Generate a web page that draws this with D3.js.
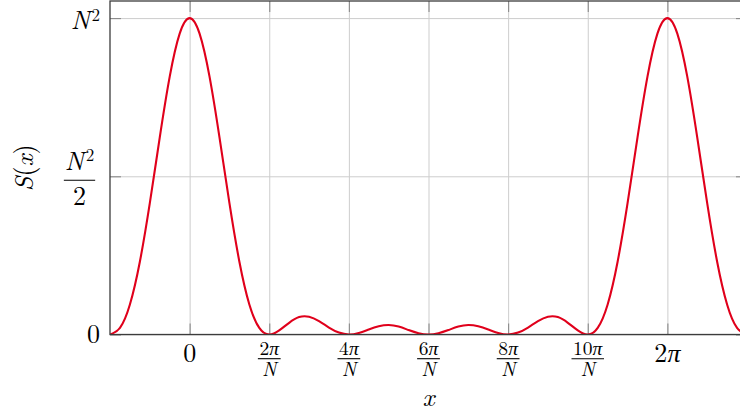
<!DOCTYPE html>
<html>
<head>
<meta charset="utf-8">
<script src="https://cdn.jsdelivr.net/npm/d3@7"></script>
<style>
  html, body { margin: 0; padding: 0; background: #fff; overflow: hidden; }
</style>
</head>
<body>
<svg id="chart" width="740" height="414"></svg>
<script>
// S(x) sampled on a uniform grid, starting at -π/3 with a step of π/24,
// values given as a fraction of the main-peak height N².
const sampleStart = -Math.PI / 3;
const sampleStep = Math.PI / 24;
const sValues = [
  0.000, 0.021, 0.095, 0.230, 0.415, 0.623, 0.815, 0.951,
  1.000, 0.951, 0.815, 0.623, 0.415, 0.230, 0.095, 0.021,
  0.000, 0.013, 0.037, 0.055, 0.056, 0.042, 0.022, 0.006,
  0.000, 0.005, 0.016, 0.026, 0.030, 0.025, 0.014, 0.004,
  0.000, 0.004, 0.014, 0.025, 0.030, 0.026, 0.016, 0.005,
  0.000, 0.006, 0.022, 0.042, 0.056, 0.055, 0.037, 0.013,
  0.000, 0.021, 0.095, 0.230, 0.415, 0.623, 0.815, 0.951,
  1.000, 0.951, 0.815, 0.623, 0.415, 0.230, 0.095, 0.021,
  0.000
];

// Axis extents
const xDomain = [-Math.PI / 3, 7 * Math.PI / 3];
const yDomain = [0, 1.054];

// Ticks
const xTickValues = [0, Math.PI / 3, 2 * Math.PI / 3, Math.PI, 4 * Math.PI / 3, 5 * Math.PI / 3, 2 * Math.PI];
const xTickLabels = [
  { parts: [{ t: "0" }] },
  { num: [{ t: "2" }, { t: "π", it: true }], den: [{ t: "N", it: true }] },
  { num: [{ t: "4" }, { t: "π", it: true }], den: [{ t: "N", it: true }] },
  { num: [{ t: "6" }, { t: "π", it: true }], den: [{ t: "N", it: true }] },
  { num: [{ t: "8" }, { t: "π", it: true }], den: [{ t: "N", it: true }] },
  { num: [{ t: "10" }, { t: "π", it: true }], den: [{ t: "N", it: true }] },
  { parts: [{ t: "2" }, { t: "π", it: true }] }
];
const yTickValues = [0, 0.5, 1];
const yTickLabels = [
  { parts: [{ t: "0" }] },
  { num: [{ t: "N", it: true }, { t: "2", sup: true }], den: [{ t: "2" }], big: true },
  { parts: [{ t: "N", it: true }, { t: "2", sup: true }] }
];

const mathFont = "'Latin Modern Roman', 'Liberation Serif', serif";
const svg = d3.select("#chart").attr("font-family", mathFont);
const plotLeft = 110, plotRight = 747, plotTop = 1, plotBottom = 334.5;
const x = d3.scaleLinear().domain(xDomain).range([plotLeft, plotRight]);
const y = d3.scaleLinear().domain(yDomain).range([plotBottom, plotTop]);

const gridColor = "#cdcdcd", tickColor = "#8a8a8a", frameColor = "#3c3c3c";
const lineColor = "#e0001b";
const mainSize = 26, fracSize = 19.5, supSize = 17;

// Grid lines
svg.append("g")
  .attr("transform", `translate(0,${plotBottom})`)
  .call(d3.axisBottom(x).tickValues(xTickValues).tickSize(-(plotBottom - plotTop)).tickFormat(""))
  .call(g => g.select(".domain").remove())
  .call(g => g.selectAll("line").attr("stroke", gridColor).attr("stroke-width", 1));
svg.append("g")
  .attr("transform", `translate(${plotLeft},0)`)
  .call(d3.axisLeft(y).tickValues(yTickValues).tickSize(-(plotRight - plotLeft)).tickFormat(""))
  .call(g => g.select(".domain").remove())
  .call(g => g.selectAll("line").attr("stroke", gridColor).attr("stroke-width", 1));

// Inner tick marks on all four sides
const tickLen = 11;
function styleTicks(g) {
  g.select(".domain").remove();
  g.selectAll("line").attr("stroke", tickColor).attr("stroke-width", 1.1);
}
svg.append("g").attr("transform", `translate(0,${plotBottom})`)
  .call(d3.axisBottom(x).tickValues(xTickValues).tickSize(-tickLen).tickFormat("")).call(styleTicks);
svg.append("g").attr("transform", `translate(0,${plotTop})`)
  .call(d3.axisTop(x).tickValues(xTickValues).tickSize(-tickLen).tickFormat("")).call(styleTicks);
svg.append("g").attr("transform", `translate(${plotLeft},0)`)
  .call(d3.axisLeft(y).tickValues(yTickValues).tickSize(-tickLen).tickFormat("")).call(styleTicks);
svg.append("g").attr("transform", `translate(${plotRight},0)`)
  .call(d3.axisRight(y).tickValues(yTickValues).tickSize(-tickLen).tickFormat("")).call(styleTicks);

// Curve
svg.append("clipPath").attr("id", "plotClip")
  .append("rect").attr("x", plotLeft).attr("y", plotTop - 2)
  .attr("width", plotRight - plotLeft).attr("height", plotBottom - plotTop + 2);

const points = sValues.map((v, i) => [sampleStart + i * sampleStep, v]);
const line = d3.line()
  .x(d => x(d[0]))
  .y(d => y(d[1]))
  .curve(d3.curveNatural);
svg.append("path")
  .datum(points)
  .attr("clip-path", "url(#plotClip)")
  .attr("fill", "none")
  .attr("stroke", lineColor)
  .attr("stroke-width", 2.1)
  .attr("stroke-linejoin", "round")
  .attr("d", line);

// Frame
svg.append("rect")
  .attr("x", plotLeft).attr("y", plotTop)
  .attr("width", plotRight - plotLeft).attr("height", plotBottom - plotTop)
  .attr("fill", "none").attr("stroke", frameColor).attr("stroke-width", 1.3);

// Math-style text helper: italic symbols, raised superscripts
function writeMath(textSel, parts) {
  parts.forEach(p => {
    const ts = textSel.append("tspan").text(p.t);
    if (p.it) ts.attr("font-style", "italic");
    if (p.sup) ts.attr("font-size", supSize).attr("dy", -8.5).attr("dx", 1.5);
  });
  return textSel;
}

function drawLabel(g, spec, anchor, opts) {
  if (spec.parts) {
    const t = g.append("text").attr("text-anchor", anchor).attr("font-size", mainSize)
      .attr("x", 0).attr("y", opts.baseline);
    writeMath(t, spec.parts);
  } else {
    const fs = spec.big ? mainSize : fracSize;
    const numT = g.append("text").attr("text-anchor", "middle").attr("font-size", fs)
      .attr("x", opts.fracCx).attr("y", opts.numBase);
    writeMath(numT, spec.num);
    const denT = g.append("text").attr("text-anchor", "middle").attr("font-size", fs)
      .attr("x", opts.fracCx).attr("y", opts.denBase);
    writeMath(denT, spec.den);
    const w = Math.max(numT.node().getBBox().width, denT.node().getBBox().width) + 2;
    g.append("line")
      .attr("x1", opts.fracCx - w / 2).attr("x2", opts.fracCx + w / 2)
      .attr("y1", opts.bar).attr("y2", opts.bar)
      .attr("stroke", "#000").attr("stroke-width", 1.1);
  }
}

// X tick labels
xTickValues.forEach((v, i) => {
  const g = svg.append("g").attr("transform", `translate(${x(v)},0)`);
  drawLabel(g, xTickLabels[i], "middle",
    { baseline: 362, fracCx: 0, numBase: 354.5, bar: 358.7, denBase: 375.5 });
});

// Y tick labels
yTickValues.forEach((v, i) => {
  const spec = yTickLabels[i];
  const g = svg.append("g").attr("transform", `translate(100,${y(v)})`);
  if (spec.parts) {
    drawLabel(g, spec, "end", { baseline: i === 0 ? 8.5 : 11 });
  } else {
    drawLabel(g, spec, "end", { fracCx: -20.5, numBase: -6.7, bar: 4, denBase: 28.3 });
  }
});

// Axis titles
svg.append("text")
  .attr("x", x(Math.PI)).attr("y", 406)
  .attr("text-anchor", "middle").attr("font-size", mainSize).attr("font-style", "italic")
  .text("x");

const yTitle = svg.append("text")
  .attr("transform", `translate(33,${(plotTop + plotBottom) / 2}) rotate(-90)`)
  .attr("text-anchor", "middle").attr("font-size", mainSize);
writeMath(yTitle, [{ t: "S", it: true }, { t: "(" }, { t: "x", it: true }, { t: ")" }]);
</script>
</body>
</html>
